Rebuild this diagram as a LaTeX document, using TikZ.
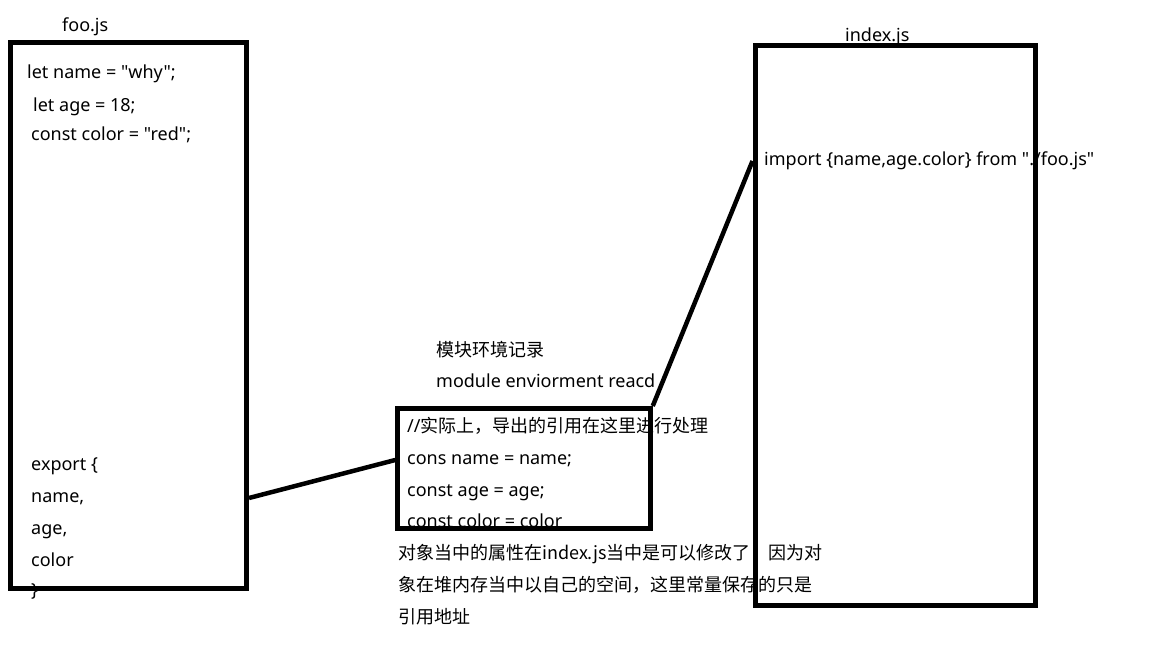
\documentclass[tikz,border=0pt]{standalone}
\usepackage{fontspec}
\setmainfont{Noto Sans}[Ligatures=TeXOff]
\newfontfamily\cjk{Noto Sans CJK SC}[Ligatures=TeXOff]
\usetikzlibrary{positioning}

\begin{document}
\begin{tikzpicture}[x=1pt, y=-1pt,
  every node/.style={font=\fontsize{18}{22}\selectfont},
  codebox/.style={draw, line width=5pt, rectangle, inner sep=0pt},
  codeline/.style={anchor=west, inner sep=0pt, text height=13pt, text depth=4pt, yshift=-2pt},
  link/.style={line width=4.5pt}]
  \useasboundingbox (0,0) rectangle (1152,648);

  % foo.js
  \node[codebox, minimum width=236pt, minimum height=546pt] (foo) at (128.5,315.5) {};
  \node[codeline] (footitle) at (62,25) {foo.js};
  \node[codeline] (letname) at (27,72) {let name = "why";};
  \node[codeline] (letage) at (33,105) {let age = 18;};
  \node[codeline] (letcolor) at (31,134) {const color = "red";};
  \node[codeline] (exp) at (31,464) {export \{};
  \node[codeline] (expname) at (31,496) {name,};
  \node[codeline] (expage) at (31,528) {age,};
  \node[codeline] (expcolor) at (31,560) {color};
  \node[codeline] (expend) at (31,590) {\}};

  % module environment record
  \node[codeline] (modcn) at (436,350) {\cjk 模块环境记录};
  \node[codeline] (moden) at (436,381) {module enviorment reacd};
  \node[codebox, minimum width=252.5pt, minimum height=120pt] (mod) at (524,468.5) {};
  \node[codeline] (modnote) at (407,426) {//\cjk 实际上，导出的引用在这里进行处理};
  \node[codeline] (modname) at (407,458) {cons name = name;};
  \node[codeline] (modage) at (407,490) {const age = age;};
  \node[codeline] (modcolor) at (407,521) {const color = color};

  % note
  \node[codeline] (note1) at (398,553) {\cjk 对象当中的属性在index.js当中是可以修改了\quad 因为对};
  \node[codeline] (note2) at (398,585) {\cjk 象在堆内存当中以自己的空间，这里常量保存的只是};
  \node[codeline] (note3) at (398,617) {\cjk 引用地址};

  % index.js
  \node[codebox, minimum width=280pt, minimum height=560pt] (idx) at (895,325) {};
  \node[codeline] (idxtitle) at (845,35) {index.js};
  \node[codeline] (imp) at (764,159) {import \{name,age.color\} from "./foo.js"};

  \draw[link] (foo.east |- expname) -- (mod.west |- modname);
  \draw[link] (mod.north east) -- (idx.west |- imp);
\end{tikzpicture}
\end{document}
